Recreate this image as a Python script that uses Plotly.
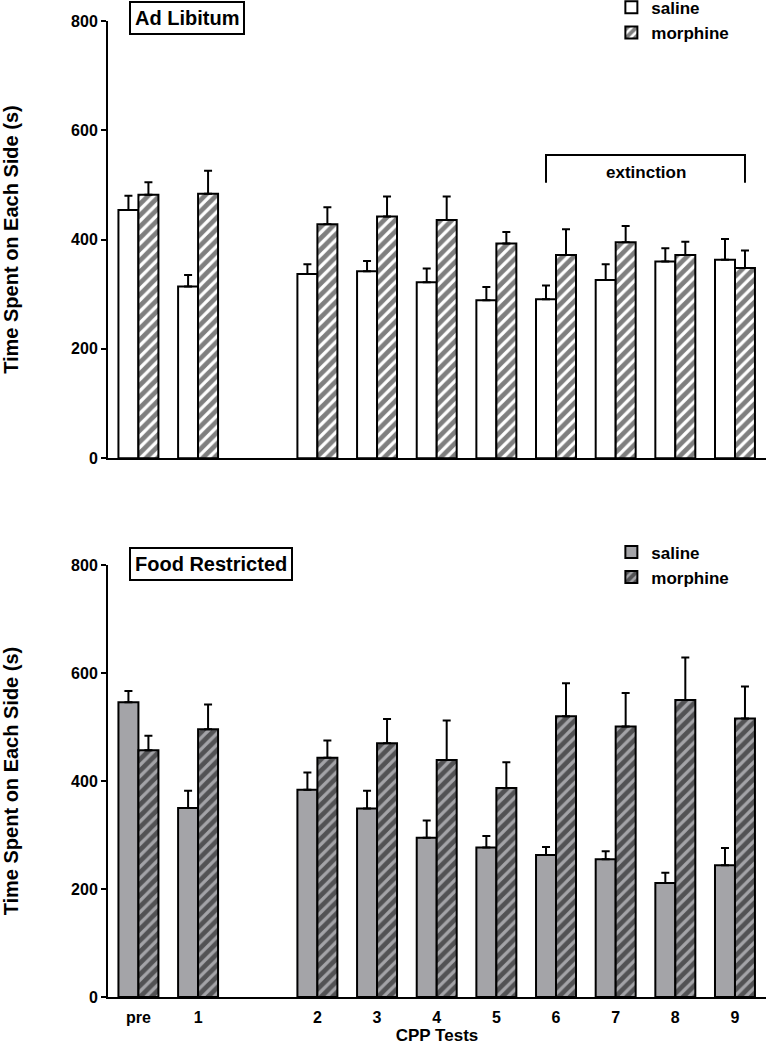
import plotly.graph_objects as go

# ---- data ----
categories = ["pre", "1", "2", "3", "4", "5", "6", "7", "8", "9"]
x_pos = [0, 1, 3, 4, 5, 6, 7, 8, 9, 10]  # slot positions (gap after test 1)

sal_al = [454, 314, 337, 342, 322, 289, 291, 326, 360, 363]
sal_al_err = [26, 21, 18, 19, 25, 24, 25, 29, 24, 38]
mor_al = [482, 484, 428, 442, 436, 393, 372, 395, 372, 348]
mor_al_err = [23, 42, 31, 37, 43, 21, 47, 30, 24, 32]

sal_fr = [546, 350, 384, 349, 295, 277, 263, 255, 211, 244]
sal_fr_err = [21, 32, 32, 33, 32, 21, 15, 15, 19, 32]
mor_fr = [457, 496, 443, 470, 439, 387, 520, 501, 550, 516]
mor_fr_err = [27, 46, 32, 45, 73, 48, 61, 62, 79, 59]

y_ticks = [0, 200, 400, 600, 800]

FONT = "Liberation Sans, Arial, sans-serif"
GRAY = "#a4a4a8"
BARGAP = 0.33
half_bar = (1 - BARGAP) / 4  # center offset of each bar in group


def err(vals):
    return dict(type="data", symmetric=False, array=vals, arrayminus=[0] * len(vals),
                color="black", thickness=2, width=4)


def bfont(size):
    return dict(family=FONT, size=size, color="black", weight="bold")


fig = go.Figure()

fig.add_trace(go.Bar(x=x_pos, y=sal_al, name="saline", xaxis="x", yaxis="y",
                     marker=dict(color="white", line=dict(color="black", width=2)),
                     error_y=err(sal_al_err), legend="legend"))
fig.add_trace(go.Bar(x=x_pos, y=mor_al, name="morphine", xaxis="x", yaxis="y",
                     marker=dict(color="white", line=dict(color="black", width=2),
                                 pattern=dict(shape="/", fgcolor="black", bgcolor="white",
                                              size=8, solidity=0.6)),
                     error_y=err(mor_al_err), legend="legend"))
fig.add_trace(go.Bar(x=x_pos, y=sal_fr, name="saline", xaxis="x2", yaxis="y2",
                     marker=dict(color=GRAY, line=dict(color="black", width=2)),
                     error_y=err(sal_fr_err), legend="legend2"))
fig.add_trace(go.Bar(x=x_pos, y=mor_fr, name="morphine", xaxis="x2", yaxis="y2",
                     marker=dict(color=GRAY, line=dict(color="black", width=2),
                                 pattern=dict(shape="/", fgcolor="black", bgcolor=GRAY,
                                              size=8, solidity=0.6)),
                     error_y=err(mor_fr_err), legend="legend2"))

xr = [-0.51, 10.52]
top_dom = [0.5521, 1.0]
bot_dom = [0.0, 0.4425]

common_x = dict(range=xr, showgrid=False, zeroline=False, showline=True, linecolor="black",
                linewidth=2, tickvals=x_pos, ticktext=categories, ticks="",
                tickfont=bfont(16), ticklabelstandoff=5)
common_y = dict(range=[0, 800], showgrid=False, zeroline=False, showline=True, linecolor="black",
                linewidth=2, tickvals=y_ticks, ticks="outside", ticklen=5, tickwidth=2,
                tickcolor="black", tickfont=bfont(16),
                title=dict(text="Time Spent on Each Side (s)", font=bfont(20), standoff=49))

fig.update_layout(
    width=766, height=1050,
    margin=dict(l=108, r=0, t=21, b=53, autoexpand=False),
    plot_bgcolor="white", paper_bgcolor="white",
    barmode="group", bargap=BARGAP, bargroupgap=0,
    font=dict(family=FONT, color="black"),
    xaxis=dict(**common_x, domain=[0, 1], anchor="y", showticklabels=False),
    yaxis=dict(**common_y, domain=top_dom, anchor="x"),
    xaxis2=dict(**common_x, domain=[0, 1], anchor="y2", showticklabels=True,
                title=dict(text="CPP Tests", font=bfont(17), standoff=2)),
    yaxis2=dict(**common_y, domain=bot_dom, anchor="x2"),
    legend=dict(x=0.765, y=1.032, xanchor="left", yanchor="top", bgcolor="rgba(0,0,0,0)",
                font=bfont(17), tracegroupgap=0),
    legend2=dict(x=0.765, y=0.474, xanchor="left", yanchor="top", bgcolor="rgba(0,0,0,0)",
                 font=bfont(17), tracegroupgap=0),
)

# Panel labels
fig.add_annotation(text="Ad Libitum", xref="paper", yref="paper", x=0.032, y=1.0026,
                   xanchor="left", yanchor="middle", showarrow=False, font=bfont(20),
                   bordercolor="black", borderwidth=2, borderpad=4, bgcolor="white")
fig.add_annotation(text="Food Restricted", xref="paper", yref="paper", x=0.032, y=0.4435,
                   xanchor="left", yanchor="middle", showarrow=False, font=bfont(20),
                   bordercolor="black", borderwidth=2, borderpad=4, bgcolor="white")

# Extinction bracket (tests 6-9)
bx0 = x_pos[6] - half_bar
bx1 = x_pos[9] + half_bar
fig.add_shape(type="path", xref="x", yref="y",
              path=f"M {bx0},504 L {bx0},555 L {bx1},555 L {bx1},504",
              line=dict(color="black", width=2))
fig.add_annotation(text="extinction", xref="x", yref="y", x=(bx0 + bx1) / 2, y=522,
                   showarrow=False, font=bfont(17))

fig.write_html("out.html", config={"displayModeBar": False},
               post_script="document.body.style.margin='0';")
